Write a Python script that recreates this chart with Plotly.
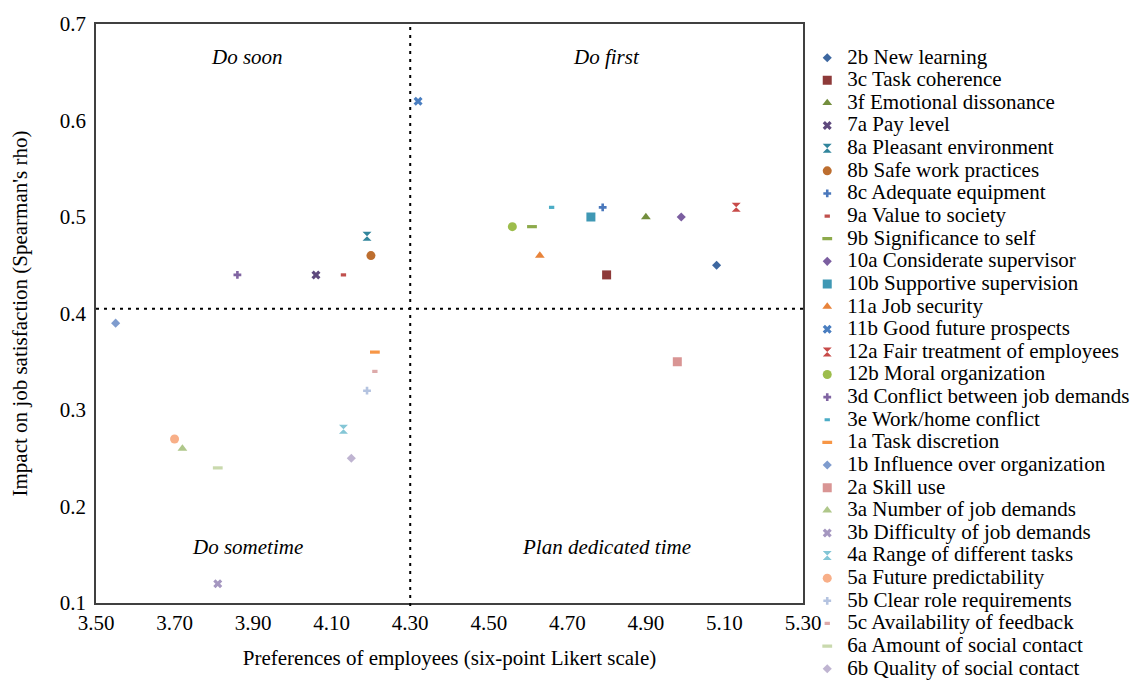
import plotly.graph_objects as go

# ---- data ----
labels = [
    "2b New learning", "3c Task coherence", "3f Emotional dissonance", "7a Pay level",
    "8a Pleasant environment", "8b Safe work practices", "8c Adequate equipment",
    "9a Value to society", "9b Significance to self", "10a Considerate supervisor",
    "10b Supportive supervision", "11a Job security", "11b Good future prospects",
    "12a Fair treatment of employees", "12b Moral organization",
    "3d Conflict between job demands", "3e Work/home conflict", "1a Task discretion",
    "1b Influence over organization", "2a Skill use", "3a Number of job demands",
    "3b Difficulty of job demands", "4a Range of different tasks",
    "5a Future predictability", "5b Clear role requirements",
    "5c Availability of feedback", "6a Amount of social contact",
    "6b Quality of social contact",
]
preference = [5.08, 4.80, 4.90, 4.06, 4.19, 4.20, 4.79, 4.13, 4.61, 4.99, 4.76, 4.63,
              4.32, 5.13, 4.56, 3.86, 4.66, 4.21, 3.55, 4.98, 3.72, 3.81, 4.13, 3.70,
              4.19, 4.21, 3.81, 4.15]
impact = [0.45, 0.44, 0.50, 0.44, 0.48, 0.46, 0.51, 0.44, 0.49, 0.50, 0.50, 0.46,
          0.62, 0.51, 0.49, 0.44, 0.51, 0.36, 0.39, 0.35, 0.26, 0.12, 0.28, 0.27,
          0.32, 0.34, 0.24, 0.25]
pref_threshold = 4.30
impact_threshold = 0.405
x_ticks = [3.50, 3.70, 3.90, 4.10, 4.30, 4.50, 4.70, 4.90, 5.10, 5.30]
y_ticks = [0.1, 0.2, 0.3, 0.4, 0.5, 0.6, 0.7]
quadrants = ["Do soon", "Do first", "Do sometime", "Plan dedicated time"]

# ---- styles ----
colors = ["#3D67A0", "#8E3A39", "#738E3D", "#5E497D", "#31859C", "#BD6E2F",
          "#4A78BC", "#C0504D", "#8DAA4B", "#7B5EA0", "#3F98B4", "#E8833A",
          "#4A7EC0", "#C84B49", "#9DBD4C", "#8064A2", "#4BACC6", "#F79646",
          "#7F9CCE", "#D99594", "#AFC78A", "#A597C0", "#84C6D6", "#F8AF88",
          "#B4C3E0", "#DDAAAA", "#C9D9AD", "#BFB4D1"]
sym_cycle = ["diamond", "square", "triangle-up", "x", "hourglass", "circle", "cross",
             "line-ew", "line-ew"]
size_cycle = [7, 9, 8.5, 8, 9, 9, 6.5, 3.8, 7]

fig = go.Figure()
for i, name in enumerate(labels):
    k = i % 9
    sym = sym_cycle[k]
    is_line = sym == "line-ew"
    fig.add_trace(go.Scatter(
        x=[preference[i]], y=[impact[i]], mode="markers",
        name=f'<span style="font-size:21px">{name}</span>',
        marker=dict(symbol=sym, size=size_cycle[k], color=colors[i],
                    line=dict(color=colors[i], width=3.2 if is_line else 0)),
        hovertext=name, hoverinfo="text+x+y",
    ))

serif = "Liberation Serif, Times New Roman, serif"
fig.add_shape(type="line", xref="x", yref="paper", x0=pref_threshold, x1=pref_threshold,
              y0=-0.005, y1=0.995, line=dict(color="black", width=2, dash="3px,5px"))
fig.add_shape(type="line", xref="paper", yref="y", x0=0, x1=1,
              y0=impact_threshold, y1=impact_threshold,
              line=dict(color="black", width=2, dash="3px,5px"))

qpos = [(3.885, 0.666), (4.80, 0.666), (3.885, 0.158), (4.80, 0.158)]
for txt, (qx, qy) in zip(quadrants, qpos):
    fig.add_annotation(x=qx, y=qy, xref="x", yref="y", text=f"<i>{txt}</i>",
                       showarrow=False, font=dict(family=serif, size=21, color="black"))

# the page places the figure 8px in from the top-left corner
fig.update_layout(
    width=1132, height=677,
    margin=dict(l=87.5, r=337, t=16, b=82, autoexpand=False),
    paper_bgcolor="white", plot_bgcolor="white",
    font=dict(family=serif, size=21, color="black"),
    showlegend=True,
    legend=dict(x=1.006, y=0.970, xanchor="left", yanchor="top",
                font=dict(family=serif, size=15.1, color="black"),
                bgcolor="rgba(0,0,0,0)", tracegroupgap=0, itemwidth=30,
                maxheight=1200),
    xaxis=dict(range=[3.5, 5.3], tickvals=x_ticks,
               ticktext=[f"{v:.2f}" for v in x_ticks],
               showgrid=False, zeroline=False, showline=True, linecolor="#404040",
               linewidth=1.5, mirror=True, ticks="", ticklabelstandoff=0,
               tickfont=dict(size=21), automargin=False,
               title=dict(text="Preferences of employees (six-point Likert scale)",
                          font=dict(size=21), standoff=16)),
    yaxis=dict(range=[0.1, 0.7], tickvals=y_ticks,
               ticktext=[f"{v:.1f}" for v in y_ticks],
               showgrid=False, zeroline=False, showline=True, linecolor="#404040",
               linewidth=1.5, mirror=True, ticks="", ticklabelstandoff=4,
               tickfont=dict(size=21), automargin=False,
               title=dict(text="Impact on job satisfaction (Spearman's rho)",
                          font=dict(size=21), standoff=27)),
)

fig.write_html("out.html")
